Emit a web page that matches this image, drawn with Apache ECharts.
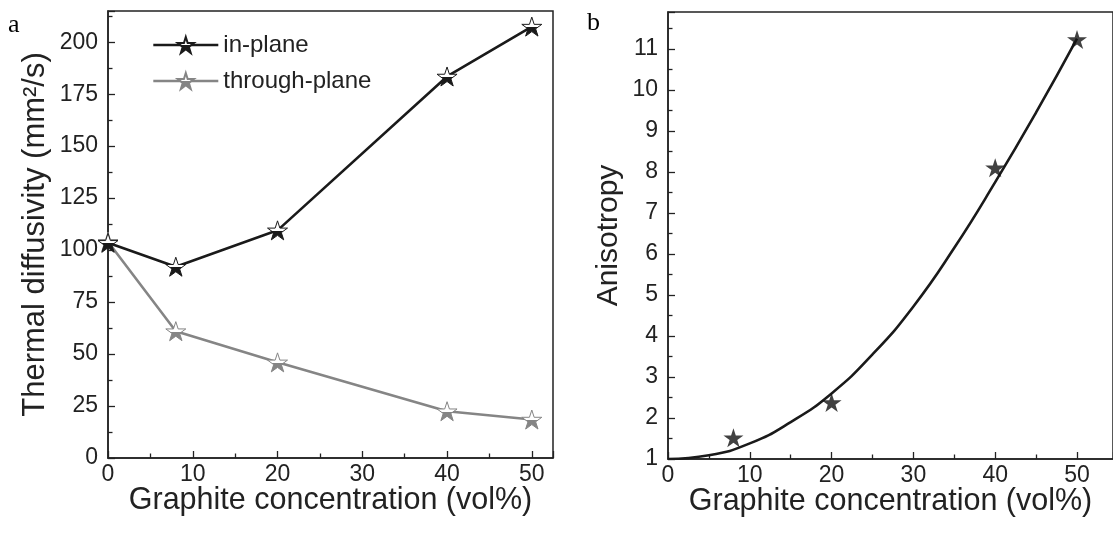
<!DOCTYPE html>
<html>
<head>
<meta charset="utf-8">
<script src="https://cdn.jsdelivr.net/npm/echarts@6/dist/echarts.min.js"></script>
<style>
html,body{margin:0;padding:0;background:#fff;}
#chart{width:1113px;height:537px;}
</style>
</head>
<body>
<div id="chart"></div>
<script>
// Panel a
const concA = [0, 8, 20, 40, 50];
const inPlane = [103.5, 92, 109.5, 183.5, 207.5];
const throughPlane = [104, 61, 46, 22.5, 18.5];
// Panel b
const concB = [8, 20, 40, 50];
const anisotropy = [1.52, 2.38, 8.1, 11.23];
const fitX = [0, 5, 10, 15, 20, 25, 30, 35, 40, 45, 50];
const fitY = [1.0, 1.09, 1.38, 1.9, 2.6, 3.55, 4.72, 6.15, 7.75, 9.45, 11.25];
const yTitleA = 'Thermal diffusivity (mm\u00B2/s)';
const yTitleB = 'Anisotropy';
const xTitle = 'Graphite concentration (vol%)';

const STAR = 'path://M100,0 L122.45,69.1 L195.1,69.1 L136.3,111.8 L158.8,180.9 L100,138.2 L41.2,180.9 L63.7,111.8 L4.9,69.1 L77.55,69.1 Z';
function halfFill(c) {
  return {type:'linear', x:0, y:0, x2:0, y2:1, colorStops:[
    {offset:0, color:'#ffffff'}, {offset:0.52, color:'#ffffff'},
    {offset:0.52, color:c}, {offset:1, color:c}]};
}
const pairs = (xs, ys) => xs.map((x, i) => [x, ys[i]]);
const FONT = '"Liberation Sans", Arial, sans-serif';
const AX = '#222';

function xAx(grid, max) {
  return {
    type:'value', gridIndex:grid, min:0, max:max, interval:10,
    name:xTitle, nameLocation:'middle', nameGap:27, nameMoveOverlap:false,
    nameTextStyle:{fontFamily:FONT, fontSize:30.5, color:AX, verticalAlign:'top'},
    axisLine:{show:true, onZero:false, lineStyle:{color:AX, width:1.5}},
    axisTick:{show:true, inside:true, length:7, lineStyle:{color:AX, width:1.3}},
    minorTick:{show:true, splitNumber:2, length:4.5, lineStyle:{color:AX, width:1.3}},
    axisLabel:{margin:5, fontFamily:FONT, fontSize:23, color:AX, showMaxLabel:false, hideOverlap:false},
    splitLine:{show:false}
  };
}
function yAx(grid, min, max, interval, name, gap, fs) {
  return {
    type:'value', gridIndex:grid, min:min, max:max, interval:interval,
    name:name, nameLocation:'middle', nameGap:gap, nameMoveOverlap:false,
    nameTextStyle:{fontFamily:FONT, fontSize:fs, color:AX},
    axisLine:{show:true, onZero:false, lineStyle:{color:AX, width:1.5}},
    axisTick:{show:true, inside:true, length:7, lineStyle:{color:AX, width:1.3}},
    minorTick:{show:true, splitNumber:2, length:4.5, lineStyle:{color:AX, width:1.3}},
    axisLabel:{margin:10, fontFamily:FONT, fontSize:23, color:AX, showMaxLabel:false, hideOverlap:false},
    splitLine:{show:false}
  };
}

const chart = echarts.init(document.getElementById('chart'), null, {renderer:'canvas'});
chart.setOption({
  animation:false,
  backgroundColor:'#fff',
  grid:[
    {left:108, top:11, width:445, height:447, show:true, borderColor:AX, borderWidth:1.5, backgroundColor:'transparent'},
    {left:668, top:12, width:460, height:447, show:true, borderColor:AX, borderWidth:1.5, backgroundColor:'transparent'}
  ],
  xAxis:[xAx(0, 52.5), xAx(1, 54.4)],
  yAxis:[
    yAx(0, 0, 215, 25, yTitleA, 57, 31),
    yAx(1, 1, 11.9, 1, yTitleB, 44, 30)
  ],
  legend:{
    data:['in-plane', 'through-plane'], orient:'vertical', left:147, top:28,
    itemWidth:65, itemHeight:20, itemGap:12,
    lineStyle:{width:2.6},
    textStyle:{fontFamily:FONT, fontSize:24, color:AX}
  },
  graphic:[
    {type:'text', left:8, top:12, style:{text:'a', font:'26px "Liberation Serif", "Times New Roman", serif', fill:'#000'}},
    {type:'text', left:587, top:10, style:{text:'b', font:'26px "Liberation Serif", "Times New Roman", serif', fill:'#000'}}
  ],
  series:[
    {name:'in-plane', type:'line', xAxisIndex:0, yAxisIndex:0, data:pairs(concA, inPlane),
     symbol:STAR, symbolSize:20, symbolKeepAspect:true, showAllSymbol:true,
     lineStyle:{color:'#1a1a1a', width:2.6},
     itemStyle:{color:halfFill('#1a1a1a'), borderColor:'#1a1a1a', borderWidth:1}, z:3},
    {name:'through-plane', type:'line', xAxisIndex:0, yAxisIndex:0, data:pairs(concA, throughPlane),
     symbol:STAR, symbolSize:20, symbolKeepAspect:true, showAllSymbol:true,
     lineStyle:{color:'#858585', width:2.6},
     itemStyle:{color:halfFill('#858585'), borderColor:'#858585', borderWidth:1}, z:2},
    {name:'fit', type:'line', xAxisIndex:1, yAxisIndex:1, data:pairs(fitX, fitY),
     smooth:true, showSymbol:false, lineStyle:{color:'#1a1a1a', width:2.6}, z:2},
    {name:'anisotropy', type:'scatter', xAxisIndex:1, yAxisIndex:1, data:pairs(concB, anisotropy),
     symbol:STAR, symbolSize:20, symbolKeepAspect:true,
     itemStyle:{color:'#111'}, z:3}
  ]
});
</script>
</body>
</html>
